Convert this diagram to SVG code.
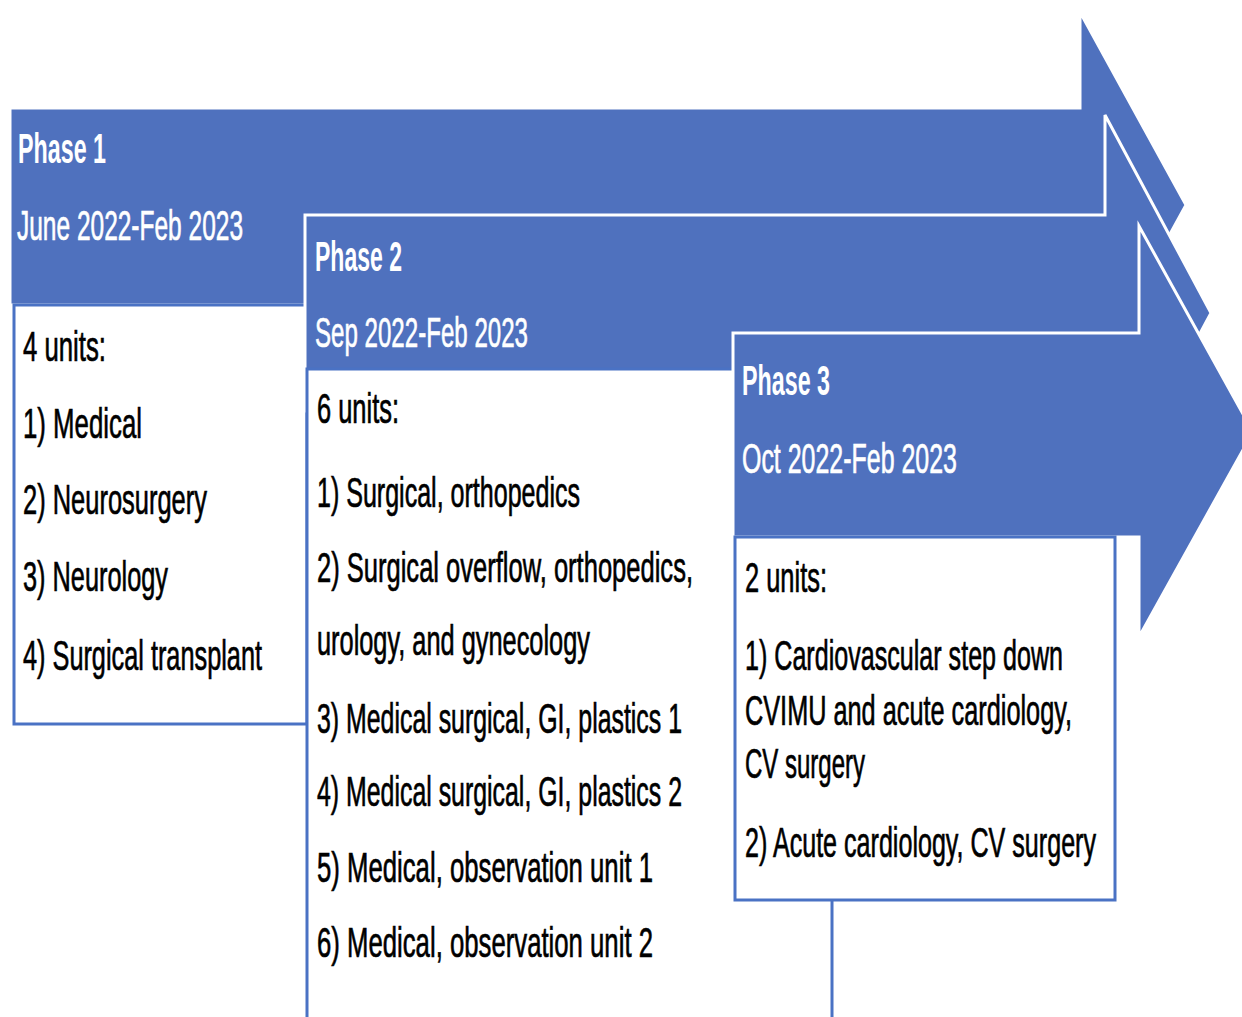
<svg xmlns="http://www.w3.org/2000/svg" width="1242" height="1017" viewBox="0 0 1242 1017">
<style>
.arrow{fill:#4F71BE;stroke:#FFFFFF;stroke-width:3;stroke-linejoin:miter}
.box{fill:#FFFFFF;stroke:#4A72C4;stroke-width:3}
text{font-family:"Liberation Sans",Arial,sans-serif;font-size:27px}
.h{fill:#FFFFFF;font-weight:bold}
.d{fill:#FFFFFF;stroke:#FFFFFF;stroke-width:0.45}
.t{fill:#000000;stroke:#000000;stroke-width:0.45}
</style>
<rect x="0" y="0" width="1242" height="1017" fill="#FFFFFF"/>
<g id="phase1">
<polygon class="arrow" points="10,108 1080,108 1080,12 1186,205 1080,398 1080,305 10,305"/>
<g transform="scale(1,1.6)">
<text class="h" x="18" y="101.875" textLength="88" lengthAdjust="spacingAndGlyphs">Phase 1</text>
<text class="d" x="17" y="150" textLength="226" lengthAdjust="spacingAndGlyphs">June 2022-Feb 2023</text>
</g>
</g>
<g id="units1">
<rect class="box" x="14" y="305" width="293" height="419"/>
<g transform="scale(1,1.6)">
<text class="t" x="23" y="225.625" textLength="83" lengthAdjust="spacingAndGlyphs">4 units:</text>
<text class="t" x="23" y="273.75" textLength="119" lengthAdjust="spacingAndGlyphs">1) Medical</text>
<text class="t" x="23" y="321.25" textLength="184" lengthAdjust="spacingAndGlyphs">2) Neurosurgery</text>
<text class="t" x="23" y="369.375" textLength="145" lengthAdjust="spacingAndGlyphs">3) Neurology</text>
<text class="t" x="23" y="418.75" textLength="239" lengthAdjust="spacingAndGlyphs">4) Surgical transplant</text>
</g>
</g>
<g id="phase2">
<polygon class="arrow" points="305,215 1105,215 1105,115 1211,313 1105,511 1105,411 305,411"/>
<g transform="scale(1,1.6)">
<text class="h" x="315" y="169.375" textLength="87" lengthAdjust="spacingAndGlyphs">Phase 2</text>
<text class="d" x="315" y="216.875" textLength="213" lengthAdjust="spacingAndGlyphs">Sep 2022-Feb 2023</text>
</g>
</g>
<g id="units2">
<rect class="box" x="307" y="369" width="525" height="700"/>
<g transform="scale(1,1.6)">
<text class="t" x="317" y="264.375" textLength="82" lengthAdjust="spacingAndGlyphs">6 units:</text>
<text class="t" x="317" y="316.875" textLength="263" lengthAdjust="spacingAndGlyphs">1) Surgical, orthopedics</text>
<text class="t" x="317" y="363.75" textLength="376" lengthAdjust="spacingAndGlyphs">2) Surgical overflow, orthopedics,</text>
<text class="t" x="317" y="409.375" textLength="273" lengthAdjust="spacingAndGlyphs">urology, and gynecology</text>
<text class="t" x="317" y="458.125" textLength="365" lengthAdjust="spacingAndGlyphs">3) Medical surgical, GI, plastics 1</text>
<text class="t" x="317" y="503.75" textLength="365" lengthAdjust="spacingAndGlyphs">4) Medical surgical, GI, plastics 2</text>
<text class="t" x="317" y="551.25" textLength="336" lengthAdjust="spacingAndGlyphs">5) Medical, observation unit 1</text>
<text class="t" x="317" y="598.125" textLength="336" lengthAdjust="spacingAndGlyphs">6) Medical, observation unit 2</text>
</g>
</g>
<g id="phase3">
<polygon class="arrow" points="733,333 1139,333 1139,226 1253,432 1139,637 1139,537 733,537"/>
<g transform="scale(1,1.6)">
<text class="h" x="742" y="246.875" textLength="88" lengthAdjust="spacingAndGlyphs">Phase 3</text>
<text class="d" x="742" y="295.625" textLength="215" lengthAdjust="spacingAndGlyphs">Oct 2022-Feb 2023</text>
</g>
</g>
<g id="units3">
<rect class="box" x="735" y="537" width="380" height="363"/>
<g transform="scale(1,1.6)">
<text class="t" x="745" y="370" textLength="82" lengthAdjust="spacingAndGlyphs">2 units:</text>
<text class="t" x="745" y="418.75" textLength="318" lengthAdjust="spacingAndGlyphs">1) Cardiovascular step down</text>
<text class="t" x="745" y="453.125" textLength="327" lengthAdjust="spacingAndGlyphs">CVIMU and acute cardiology,</text>
<text class="t" x="745" y="486.25" textLength="120" lengthAdjust="spacingAndGlyphs">CV surgery</text>
<text class="t" x="745" y="535.625" textLength="351" lengthAdjust="spacingAndGlyphs">2) Acute cardiology, CV surgery</text>
</g>
</g>
<g id="connectors"></g>
</svg>
